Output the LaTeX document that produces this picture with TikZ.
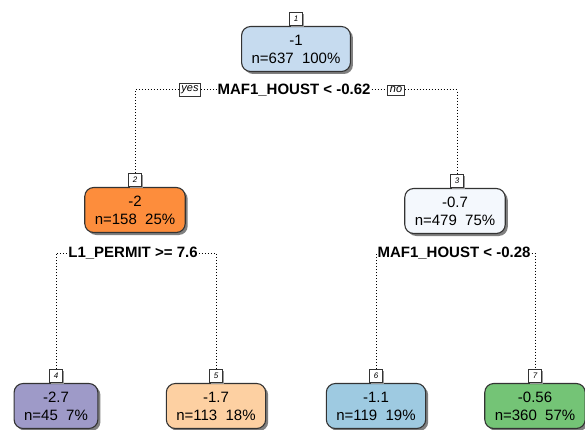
\documentclass[tikz,border=0pt]{standalone}
\usepackage{fontspec}
\setmainfont{Liberation Sans}
\usetikzlibrary{shadows,backgrounds}
\definecolor{rootblue}{HTML}{C6DBEF}
\definecolor{deeporange}{HTML}{FD8D3C}
\definecolor{paleblue}{HTML}{F4F8FD}
\definecolor{lavender}{HTML}{9E9AC8}
\definecolor{peach}{HTML}{FDD0A2}
\definecolor{skyblue}{HTML}{9ECAE1}
\definecolor{leafgreen}{HTML}{74C476}
\begin{document}
\begin{tikzpicture}
  [x=1pt,y=-1pt,%
   box/.style={shape=rectangle,rounded corners=9pt,draw=black!80,line width=1.1pt,
     align=center,inner xsep=10pt,minimum height=45pt,
     font=\fontsize{15}{18}\selectfont,
     drop shadow={shadow xshift=2.5pt,shadow yshift=-2.5pt,fill=black!50,opacity=1}},
   tag/.style={shape=rectangle,draw=black!80,fill=white,line width=0.8pt,anchor=south,
     inner sep=1pt,minimum width=13pt,minimum height=13pt,
     font=\fontsize{8}{9}\selectfont\itshape,
     drop shadow={shadow xshift=1.5pt,shadow yshift=-1.5pt,fill=black!40,opacity=1}},
   split/.style={font=\bfseries\fontsize{15}{18}\selectfont,inner sep=1pt},
   answer/.style={draw=black!80,fill=white,line width=0.8pt,inner xsep=2pt,inner ysep=2pt,
     font=\itshape\fontsize{11}{12}\selectfont},
   link/.style={dotted,line width=1pt}]
  \useasboundingbox (0,0) rectangle (585,430);
  % root
  \node[box,fill=rootblue] (n1) at (296,49) {-1\\n=637~~100\%};
  \node[tag] (t1) at (n1.north) {1};
  \node[split] (s1) at (294,90) {MAF1\_HOUST < -0.62};
  \node[answer] (yes) at (190,90) {yes};
  \node[answer] (no) at (396,90) {no};
  % second level
  \node[box,fill=deeporange] (n2) at (135,210) {-2\\n=158~~25\%};
  \node[tag] (t2) at (n2.north) {2};
  \node[box,fill=paleblue] (n3) at (455,211) {-0.7\\n=479~~75\%};
  \node[tag] (t3) at ([xshift=2pt]n3.north) {3};
  \node[split] (s2) at (133,253) {L1\_PERMIT >= 7.6};
  \node[split] (s3) at (454,253) {MAF1\_HOUST < -0.28};
  % leaves
  \node[box,fill=lavender] (n4) at (56,406) {-2.7\\n=45~~7\%};
  \node[tag] (t4) at (n4.north) {4};
  \node[box,fill=peach] (n5) at (216,406) {-1.7\\n=113~~18\%};
  \node[tag] (t5) at (n5.north) {5};
  \node[box,fill=skyblue] (n6) at (376,406) {-1.1\\n=119~~19\%};
  \node[tag] (t6) at (n6.north) {6};
  \node[box,fill=leafgreen] (n7) at (535,406) {-0.56\\n=360~~57\%};
  \node[tag] (t7) at (n7.north) {7};
  \begin{scope}[on background layer]
    \draw[link] (t2.north) |- (yes.west);
    \draw[link] (yes.east) -- (s1.west);
    \draw[link] (s1.east) -- (no.west);
    \draw[link] (no.east) -| (t3.north);
    \draw[link] (t4.north) |- (s2.west);
    \draw[link] (s2.east) -| (t5.north);
    \draw[link] (t6.north) |- (s3.west);
    \draw[link] (s3.east) -| (t7.north);
  \end{scope}
\end{tikzpicture}
\end{document}
